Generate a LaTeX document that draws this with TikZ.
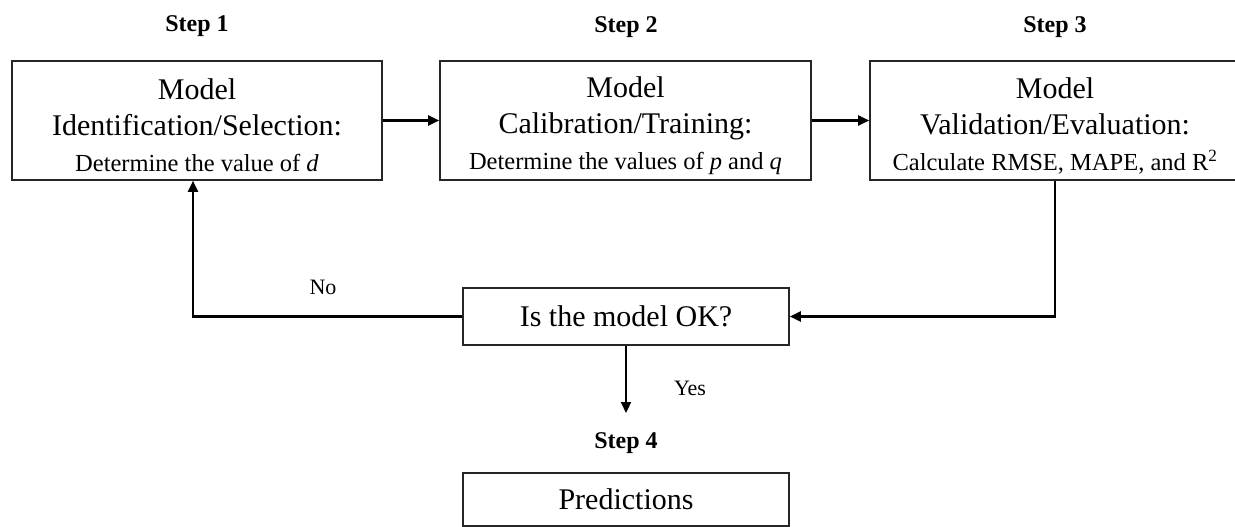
\documentclass[tikz,border=0pt]{standalone}
\usepackage{fontspec}
\setmainfont{Liberation Serif}
\usetikzlibrary{arrows.meta}
\tikzset{
  stepbox/.style={draw=black!85, line width=1.6pt, align=center, inner sep=0pt, minimum height=119pt},
  steplabel/.style={font=\fontsize{24}{28}\selectfont\bfseries, inner sep=0pt},
  yn/.style={font=\fontsize{22}{26}\selectfont, inner sep=0pt},
  arr/.style={line width=2.2pt, -{Triangle[length=11pt,width=10pt]}},
  conn/.style={line width=2.2pt}
}
\newcommand{\bigtxt}{\fontsize{30}{36}\selectfont}
\newcommand{\smalltxt}{\fontsize{24.5}{30}\selectfont}
\newcommand{\topstrut}{\rule{0pt}{31pt}}
\begin{document}
\begin{tikzpicture}[x=1pt,y=-1pt]
\clip (0,0) rectangle (1235,527);
\fill[white] (0,0) rectangle (1235,527);
\node[steplabel] (s1) at (197,26) {Step 1};
\node[steplabel] (s2) at (626,27) {Step 2};
\node[steplabel] (s3) at (1055,27) {Step 3};
\node[steplabel] (s4) at (626,443) {Step 4};
\node[stepbox, minimum width=370pt, font=\bigtxt] (b1) at (197,120.5)
  {\topstrut Model\\Identification/Selection:\\\smalltxt Determine the value of \textit{d}};
\node[stepbox, minimum width=371pt, font=\bigtxt] (b2) at (625.5,120.5)
  {\topstrut Model\\Calibration/Training:\\\smalltxt Determine the values of \textit{p} and \textit{q}};
\node[stepbox, minimum width=370pt, font=\bigtxt] (b3) at (1055,120.5)
  {\topstrut Model\\Validation/Evaluation:\\\smalltxt Calculate RMSE, MAPE, and R\textsuperscript{2}};
\node[stepbox, minimum width=326pt, minimum height=57pt, font=\bigtxt] (dec) at (626,316.5)
  {Is the model OK?};
\node[stepbox, minimum width=326pt, minimum height=53pt, font=\bigtxt] (pred) at (626,499.5)
  {Predictions};
\coordinate (c1) at (193,0);
\coordinate (yesend) at (626,413);
\draw[arr] (b1.east) -- (b2.west);
\draw[arr] (b2.east) -- (b3.west);
\draw[arr] (b3.south) |- (dec.east);
\draw[arr] (dec.west) -| (c1 |- b1.south);
\draw[arr] (dec.south) -- (yesend);
\node[yn] (no) at (323,287) {No};
\node[yn] (yes) at (690,388) {Yes};
\end{tikzpicture}
\end{document}
